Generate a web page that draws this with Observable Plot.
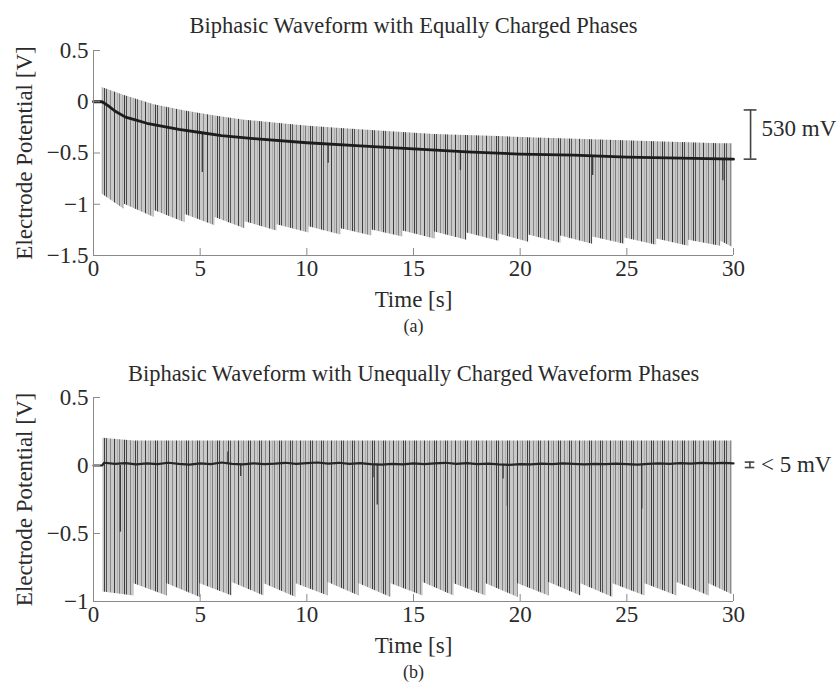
<!DOCTYPE html>
<html><head><meta charset="utf-8">
<script src="https://cdn.jsdelivr.net/npm/d3@7"></script>
<script src="https://cdn.jsdelivr.net/npm/@observablehq/plot@0.6"></script>
<style>
body{margin:0;background:#fff;}
svg{display:block}
</style>
</head><body><div id="chart"></div>
<script>
// ---------- data ----------
const xTicks = [0, 5, 10, 15, 20, 25, 30];
const aYTicks = [0.5, 0, -0.5, -1, -1.5];
const bYTicks = [0.5, 0, -0.5, -1];
const aTitle = "Biphasic Waveform with Equally Charged Phases";
const bTitle = "Biphasic Waveform with Unequally Charged Waveform Phases";
const xLabel = "Time [s]";
const yLabel = "Electrode Potential [V]";

// Panel (a): mean electrode potential
const aMeanT = [0, 0.4, 0.7, 1.0, 1.5, 2, 2.5, 3, 4, 5, 6, 7.5, 10, 12.5, 15, 17.5, 20, 22.5, 25, 27.5, 30];
const aMeanV = [0, 0, -0.04, -0.09, -0.15, -0.18, -0.21, -0.23, -0.27, -0.30, -0.33, -0.36, -0.40, -0.43, -0.46, -0.49, -0.51, -0.52, -0.54, -0.55, -0.56];
// Panel (a): pulse-train groups (start time, envelope top, bottom at start / end of group)
const aGroupStart = [0.4, 1.45, 2.85, 4.3, 5.7, 7.1, 8.6, 10.1, 11.6, 13.05, 14.5, 16.0, 17.5, 19.0, 20.4, 21.9, 23.4, 24.9, 26.4, 27.9, 29.4];
const aGroupEnd = 29.95;
const aTop = [0.14, 0.06, -0.03, -0.09, -0.14, -0.18, -0.21, -0.24, -0.26, -0.28, -0.30, -0.32, -0.33, -0.34, -0.35, -0.36, -0.37, -0.38, -0.39, -0.40, -0.41];
const aTopEnd = -0.41;
const aBottomStart = [-0.90, -1.00, -1.06, -1.10, -1.13, -1.17, -1.20, -1.22, -1.24, -1.25, -1.26, -1.27, -1.28, -1.29, -1.30, -1.31, -1.32, -1.33, -1.34, -1.35, -1.36];
const aBottomEnd = [-1.05, -1.13, -1.18, -1.21, -1.24, -1.26, -1.28, -1.30, -1.31, -1.32, -1.34, -1.35, -1.36, -1.37, -1.38, -1.39, -1.39, -1.40, -1.41, -1.41, -1.42];
// Panel (a): isolated deeper spikes
const aSpikeT = [5.1, 11.0, 17.2, 23.4, 29.5];
const aSpikeTop = [-0.31, -0.41, -0.49, -0.53, -0.56];
const aSpikeBottom = [-0.69, -0.60, -0.67, -0.72, -0.77];

// Panel (b)
const bMeanT = [0, 0.4, 0.5, 1, 1.5, 2, 2.5, 3, 3.5, 4, 4.5, 5, 5.5, 6, 6.5, 7, 7.5, 8, 8.5, 9, 9.5, 10, 10.5, 11, 11.5, 12, 12.5, 13, 13.5, 14, 14.5, 15, 15.5, 16, 16.5, 17, 17.5, 18, 18.5, 19, 19.5, 20, 20.5, 21, 21.5, 22, 22.5, 23, 23.5, 24, 24.5, 25, 25.5, 26, 26.5, 27, 27.5, 28, 28.5, 29, 29.5, 30];
const bMeanV = [0, 0, 0.02, 0.012, 0.018, 0.008, 0.015, 0.01, 0.02, 0.012, 0.006, 0.015, 0.01, 0.022, 0.012, 0.008, 0.016, 0.01, 0.014, 0.02, 0.012, 0.018, 0.022, 0.014, 0.02, 0.012, 0.018, 0.01, 0.006, 0.012, 0.008, 0.015, 0.01, 0.016, 0.02, 0.012, 0.018, 0.01, 0.014, 0.008, 0.004, 0.01, 0.008, 0.014, 0.01, 0.016, 0.012, 0.008, 0.012, 0.01, 0.014, 0.01, 0.006, 0.012, 0.016, 0.012, 0.018, 0.014, 0.02, 0.016, 0.02, 0.016];
const bGroupStart = [0.45, 1.9, 3.45, 5.0, 6.5, 8.0, 9.5, 11.0, 12.45, 13.95, 15.45, 16.9, 18.4, 19.9, 21.35, 22.85, 24.35, 25.85, 27.35, 28.85];
const bGroupEnd = 29.95;
const bTop = [0.20, 0.18, 0.18, 0.18, 0.18, 0.18, 0.18, 0.18, 0.18, 0.18, 0.18, 0.18, 0.18, 0.18, 0.18, 0.18, 0.18, 0.18, 0.18, 0.18];
const bTopEnd = 0.18;
const bBottomStart = [-0.93, -0.87, -0.87, -0.87, -0.86, -0.87, -0.87, -0.86, -0.87, -0.87, -0.86, -0.87, -0.87, -0.87, -0.86, -0.87, -0.87, -0.87, -0.86, -0.87];
const bBottomEnd = [-0.96, -0.96, -0.97, -0.96, -0.96, -0.97, -0.96, -0.96, -0.97, -0.96, -0.96, -0.96, -0.97, -0.96, -0.96, -0.97, -0.96, -0.96, -0.96, -0.95];
const bSpikeT = [1.26, 6.3, 6.9, 13.1, 13.3, 19.2, 19.4, 25.7];
const bSpikeTop = [0, 0.1, 0.01, 0.01, 0.01, 0.01, 0.01, 0.01];
const bSpikeBottom = [-0.49, 0.01, -0.08, -0.09, -0.29, -0.10, -0.30, -0.32];

// Annotations (bracket + label, right of the axes)
const aNote = {x: 30.8, capX1: 30.5, capX2: 31.1, y1: -0.56, y2: -0.08, labelY: -0.265, label: "530 mV"};
const bNote = {x: 30.77, capX1: 30.55, capX2: 31.0, y1: -0.015, y2: 0.025, labelY: 0.005, label: "< 5 mV"};

// ---------- helpers ----------
function bandRows(starts, end, tops, topEnd, his, los) {
  const rows = [];
  starts.forEach((s, i) => {
    const last = i === starts.length - 1;
    rows.push({t: s, top: tops[i], bot: his[i]});
    rows.push({t: last ? end : starts[i + 1], top: last ? topEnd : tops[i + 1], bot: los[i]});
  });
  return rows;
}
function zipRows(ts, vs) { return ts.map((t, i) => ({t, v: vs[i]})); }
function spikeRows(ts, y1s, y2s) { return ts.map((t, i) => ({t, y1: y1s[i], y2: y2s[i]})); }

const FONT = "'Liberation Serif', 'DejaVu Serif', serif";
const AXIS = "#8a8a8a";
const TEXT = "#2b2b2b";
// stripe texture of the dense pulse train (style only)
const PW = 31;
const stripes = [[0, "#3c3c3c"], [2, "#4a4a4a"], [6, "#858585"], [9, "#b0b0b0"], [11, "#404040"], [13, "#555555"], [17, "#8a8a8a"], [21, "#3e3e3e"], [24, "#adadad"], [26, "#7e7e7e"], [29, "#b3b3b3"]];

function addPattern(svg, id) {
  const ns = "http://www.w3.org/2000/svg";
  const defs = document.createElementNS(ns, "defs");
  const p = document.createElementNS(ns, "pattern");
  p.setAttribute("id", id);
  p.setAttribute("patternUnits", "userSpaceOnUse");
  p.setAttribute("width", PW);
  p.setAttribute("height", 20);
  const bg = document.createElementNS(ns, "rect");
  bg.setAttribute("width", PW); bg.setAttribute("height", 20); bg.setAttribute("fill", "#c9c9c9");
  p.appendChild(bg);
  for (const [x, c] of stripes) {
    const r = document.createElementNS(ns, "rect");
    r.setAttribute("x", x); r.setAttribute("width", 1); r.setAttribute("height", 20); r.setAttribute("fill", c);
    p.appendChild(r);
  }
  defs.appendChild(p);
  svg.insertBefore(defs, svg.firstChild);
}

function panel({yDomain, yTicks, title, caption, band, mean, spikes, note, patId, marginTop, marginBottom, meanWidth, meanColor, titleDy}) {
  const svg = Plot.plot({
    width: 840,
    height: 344,
    marginLeft: 93,
    marginRight: 107,
    marginTop,
    marginBottom,
    style: {fontFamily: FONT, fontSize: "23px", color: TEXT, background: "#fff"},
    x: {type: "linear", domain: [0, 30]},
    y: {type: "linear", domain: yDomain},
    marks: [
      Plot.areaY(band, {x: "t", y1: "bot", y2: "top", fill: `url(#${patId})`}),
      Plot.ruleX(spikes, {x: "t", y1: "y1", y2: "y2", stroke: "#3a3a3a", strokeWidth: 1.3}),
      Plot.line(mean, {x: "t", y: "v", stroke: meanColor, strokeWidth: meanWidth}),
      Plot.ruleX([0], {stroke: AXIS, strokeWidth: 1}),
      Plot.ruleY([yDomain[0]], {stroke: AXIS, strokeWidth: 1}),
      Plot.axisY(yTicks, {anchor: "left", tickSize: 0, tickPadding: 5, label: null, tickFormat: d3.format(""), fill: TEXT}),
      Plot.axisY(yTicks, {anchor: "left", tickSize: 7, dx: 7, label: null, tickFormat: () => "", stroke: AXIS}),
      Plot.axisX(xTicks, {anchor: "bottom", tickSize: 0, tickPadding: 4, label: null, tickFormat: d3.format(""), fill: TEXT}),
      Plot.axisX(xTicks, {anchor: "bottom", tickSize: 7, dy: -7, label: null, tickFormat: () => "", stroke: AXIS}),
      Plot.text([title], {frameAnchor: "top", dy: titleDy, lineAnchor: "middle", fill: TEXT, fontSize: 22.5}),
      Plot.text([xLabel], {frameAnchor: "bottom", dy: 44, lineAnchor: "middle", fill: TEXT}),
      Plot.text([caption], {frameAnchor: "bottom", dy: 71, lineAnchor: "middle", fill: TEXT, fontSize: 18}),
      Plot.text([yLabel], {frameAnchor: "left", dx: -69, rotate: -90, textAnchor: "middle", lineAnchor: "middle", fill: TEXT}),
      Plot.ruleX([note], {x: "x", y1: "y1", y2: "y2", stroke: "#444", strokeWidth: 1.6}),
      Plot.ruleY([note], {y: "y1", x1: "capX1", x2: "capX2", stroke: "#444", strokeWidth: 1.6}),
      Plot.ruleY([note], {y: "y2", x1: "capX1", x2: "capX2", stroke: "#444", strokeWidth: 1.6}),
      Plot.text([note], {x: "x", y: "labelY", text: "label", dx: 11, textAnchor: "start", lineAnchor: "middle", fill: TEXT})
    ]
  });
  addPattern(svg, patId);
  return svg;
}

const A = panel({
  yDomain: [-1.5, 0.5], yTicks: aYTicks, title: aTitle, caption: "(a)",
  band: bandRows(aGroupStart, aGroupEnd, aTop, aTopEnd, aBottomStart, aBottomEnd),
  mean: zipRows(aMeanT, aMeanV), spikes: spikeRows(aSpikeT, aSpikeTop, aSpikeBottom),
  note: aNote, patId: "patA", marginTop: 50, marginBottom: 89, meanWidth: 2.8, meanColor: "#1c1c1c", titleDy: -25
});
const B = panel({
  yDomain: [-1, 0.5], yTicks: bYTicks, title: bTitle, caption: "(b)",
  band: bandRows(bGroupStart, bGroupEnd, bTop, bTopEnd, bBottomStart, bBottomEnd),
  mean: zipRows(bMeanT, bMeanV), spikes: spikeRows(bSpikeT, bSpikeTop, bSpikeBottom),
  note: bNote, patId: "patB", marginTop: 53, marginBottom: 87, meanWidth: 2.2, meanColor: "#262626", titleDy: -24
});
document.getElementById("chart").append(A, B);
</script>
</body></html>
